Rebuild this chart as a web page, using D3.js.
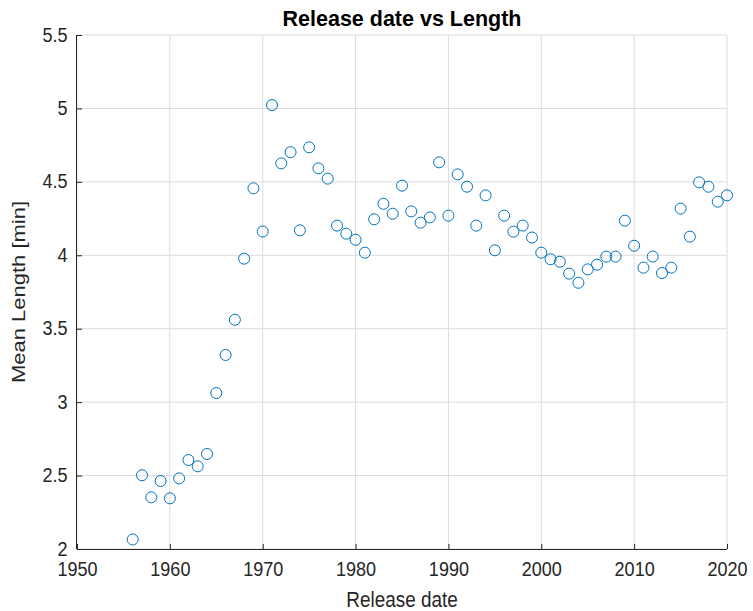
<!DOCTYPE html>
<html>
<head>
<meta charset="utf-8">
<script src="https://cdn.jsdelivr.net/npm/d3@7"></script>
<style>
  html, body { margin: 0; padding: 0; background: #ffffff; }
  svg { display: block; }
  text { font-family: "Liberation Sans", Arial, Helvetica, sans-serif; fill: #262626; }
</style>
</head>
<body>
<svg id="chart" width="753" height="611"></svg>
<script>
// ---- data ----
const years = [
  1956, 1957, 1958, 1959, 1960, 1961, 1962, 1963, 1964, 1965,
  1966, 1967, 1968, 1969, 1970, 1971, 1972, 1973, 1974, 1975,
  1976, 1977, 1978, 1979, 1980, 1981, 1982, 1983, 1984, 1985,
  1986, 1987, 1988, 1989, 1990, 1991, 1992, 1993, 1994, 1995,
  1996, 1997, 1998, 1999, 2000, 2001, 2002, 2003, 2004, 2005,
  2006, 2007, 2008, 2009, 2010, 2011, 2012, 2013, 2014, 2015,
  2016, 2017, 2018, 2019, 2020
];
const meanLength = [
  2.065, 2.502, 2.352, 2.463, 2.345, 2.481, 2.606, 2.563, 2.647, 3.062,
  3.321, 3.561, 3.977, 4.456, 4.162, 5.023, 4.626, 4.702, 4.170, 4.735,
  4.592, 4.522, 4.202, 4.147, 4.106, 4.018, 4.245, 4.351, 4.283, 4.474,
  4.299, 4.222, 4.258, 4.633, 4.270, 4.551, 4.467, 4.202, 4.408, 4.034,
  4.270, 4.161, 4.202, 4.121, 4.018, 3.973, 3.956, 3.875, 3.813, 3.904,
  3.936, 3.991, 3.991, 4.236, 4.065, 3.916, 3.991, 3.879, 3.916, 4.318,
  4.127, 4.497, 4.467, 4.365, 4.408
];
const xTicks = [1950, 1960, 1970, 1980, 1990, 2000, 2010, 2020];
const yTicks = [2, 2.5, 3, 3.5, 4, 4.5, 5, 5.5];
const titleText = "Release date vs Length";
const xLabelText = "Release date";
const yLabelText = "Mean Length [min]";

// ---- layout ----
const mLeft = 77, mRight = 727, mTop = 35, mBottom = 549;
const svg = d3.select("#chart");

const x = d3.scaleLinear().domain([1950, 2020]).range([mLeft, mRight]);
const y = d3.scaleLinear().domain([2, 5.5]).range([mBottom, mTop]);

const axisColor = "#262626";
const gridColor = "#dcdcdc";
const sx = 0.86;

// grid
const grid = svg.append("g");
grid.selectAll("line.gx").data(xTicks).join("line")
  .attr("class", "gx")
  .attr("x1", d => x(d)).attr("x2", d => x(d))
  .attr("y1", mTop).attr("y2", mBottom)
  .attr("stroke", gridColor).attr("stroke-width", 1);
grid.selectAll("line.gy").data(yTicks).join("line")
  .attr("class", "gy")
  .attr("x1", mLeft).attr("x2", mRight)
  .attr("y1", d => y(d)).attr("y2", d => y(d))
  .attr("stroke", gridColor).attr("stroke-width", 1);

// axes (ticks inward)
const xAxis = d3.axisBottom(x).tickValues(xTicks).tickFormat(d3.format("d"))
  .tickSizeInner(-5).tickSizeOuter(0);
const gx = svg.append("g").attr("transform", `translate(0,${mBottom})`).call(xAxis);
gx.select(".domain").attr("stroke", axisColor).attr("d", `M${mLeft},0.5H${mRight}`);
gx.selectAll(".tick line").attr("stroke", axisColor);
gx.selectAll(".tick text")
  .attr("y", null).attr("dy", null)
  .attr("transform", `translate(0,26.5) scale(${sx},1)`)
  .attr("fill", axisColor)
  .style("font-size", "21px");

const yAxis = d3.axisLeft(y).tickValues(yTicks).tickFormat(d => d3.format("")(d))
  .tickSizeInner(-5).tickSizeOuter(0);
const gy = svg.append("g").attr("transform", `translate(${mLeft},0)`).call(yAxis);
gy.select(".domain").attr("stroke", axisColor).attr("d", `M-0.5,${mTop}V${mBottom}`);
gy.selectAll(".tick line").attr("stroke", axisColor);
gy.selectAll(".tick text")
  .attr("x", null).attr("dy", null)
  .attr("transform", `translate(-9.5,6) scale(${sx},1)`)
  .attr("text-anchor", "end")
  .attr("fill", axisColor)
  .style("font-size", "21px");

// points
svg.append("g").selectAll("circle").data(years).join("circle")
  .attr("cx", (d, i) => x(d))
  .attr("cy", (d, i) => y(meanLength[i]))
  .attr("r", 5.5)
  .attr("fill", "none")
  .attr("stroke", "#0072BD")
  .attr("stroke-width", 1);

// title
svg.append("text")
  .attr("transform", `translate(${(mLeft + mRight) / 2},26)`)
  .attr("text-anchor", "middle")
  .style("font-size", "21.5px")
  .style("font-weight", "bold")
  .style("fill", "#000000")
  .text(titleText);

// x label
svg.append("text")
  .attr("transform", `translate(${(mLeft + mRight) / 2},607) scale(${sx},1)`)
  .attr("text-anchor", "middle")
  .style("font-size", "22px")
  .text(xLabelText);

// y label
svg.append("text")
  .attr("transform", `translate(25,${(mTop + mBottom) / 2}) rotate(-90) scale(1,${sx})`)
  .attr("text-anchor", "middle")
  .style("font-size", "22px")
  .text(yLabelText);
</script>
</body>
</html>
